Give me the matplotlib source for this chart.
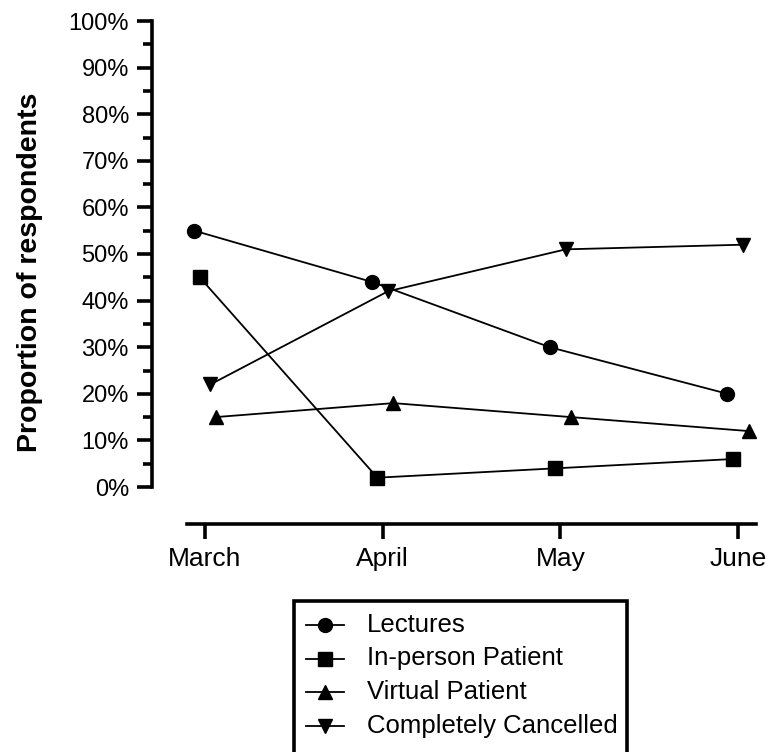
import matplotlib
matplotlib.use("Agg")
import matplotlib.pyplot as plt
from matplotlib.lines import Line2D
from matplotlib.patches import Rectangle
from matplotlib.ticker import MultipleLocator, FuncFormatter

plt.rcParams['font.family'] = ['Liberation Sans', 'DejaVu Sans']

months = ["March", "April", "May", "June"]
series_names = ["Lectures", "In-person Patient", "Virtual Patient", "Completely Cancelled"]
lectures = [55, 44, 30, 20]
in_person = [45, 2, 4, 6]
virtual = [15, 18, 15, 12]
cancelled = [22, 42, 51, 52]

W, H = 771, 752
fig = plt.figure(figsize=(W / 100, H / 100), dpi=100)

def fx(px):
    return px / W

def fy(py):
    return 1 - py / H

# axes: x data 0 at px 205, 177.7 px per month; y 0% at 487, 100% at 21
ppu = 177.7
left_px = 205 - 0.1 * ppu
right_px = 205 + 3.1 * ppu
ax = fig.add_axes([fx(left_px), fy(487), fx(right_px - left_px), (487 - 21) / H])

x = list(range(len(months)))
styles = [
    (lectures, "o", 10, -0.06),
    (in_person, "s", 10, -0.03),
    (virtual, "^", 10.5, 0.06),
    (cancelled, "v", 10.5, 0.03),
]
for vals, mk, ms, off in styles:
    ax.plot([xi + off for xi in x], vals, color="black", lw=1.3,
            marker=mk, markersize=ms, markerfacecolor="black",
            markeredgecolor="black", clip_on=False, zorder=3)

ax.set_xlim(-0.1, 3.1)
ax.set_ylim(0, 100)
ax.set_xticks(x)
ax.set_xticklabels(months)
ax.yaxis.set_major_locator(MultipleLocator(10))
ax.yaxis.set_minor_locator(MultipleLocator(5))
ax.yaxis.set_major_formatter(FuncFormatter(lambda v, p: f"{int(round(v))}%"))

for s in ["top", "right"]:
    ax.spines[s].set_visible(False)
ax.spines["left"].set_position(("outward", 25.2))
ax.spines["bottom"].set_position(("outward", 26.6))
for s in ["left", "bottom"]:
    ax.spines[s].set_linewidth(2.6)
    ax.spines[s].set_capstyle("projecting")

ax.tick_params(axis="y", which="major", length=10.8, width=2.6, labelsize=17, pad=6)
ax.tick_params(axis="y", which="minor", length=6.5, width=2.6)
ax.tick_params(axis="x", which="major", length=10.8, width=2.6, labelsize=19, pad=6)

fig.text(fx(30), fy(272), "Proportion of respondents", rotation=90,
         ha="center", va="center", fontsize=20.5, fontweight="bold")

# legend (box extends below the figure edge)
fig.add_artist(Rectangle((fx(294), fy(770)), fx(627 - 294), (770 - 601) / H,
                         transform=fig.transFigure, fill=False, edgecolor="black",
                         linewidth=2.6, clip_on=False))
leg_markers = [("o", 10), ("s", 10), ("^", 10.5), ("v", 10.5)]
for i, (name, (mk, ms)) in enumerate(zip(series_names, leg_markers)):
    yy = fy(625 + 33.5 * i)
    fig.add_artist(Line2D([fx(306), fx(344)], [yy, yy], transform=fig.transFigure,
                          color="black", lw=1.3))
    fig.add_artist(Line2D([fx(325)], [yy], transform=fig.transFigure, marker=mk,
                          markersize=ms, color="black", lw=0))
    fig.text(fx(367), yy, name, ha="left", va="center", fontsize=18.5)

fig.savefig("out.png", dpi=100)
